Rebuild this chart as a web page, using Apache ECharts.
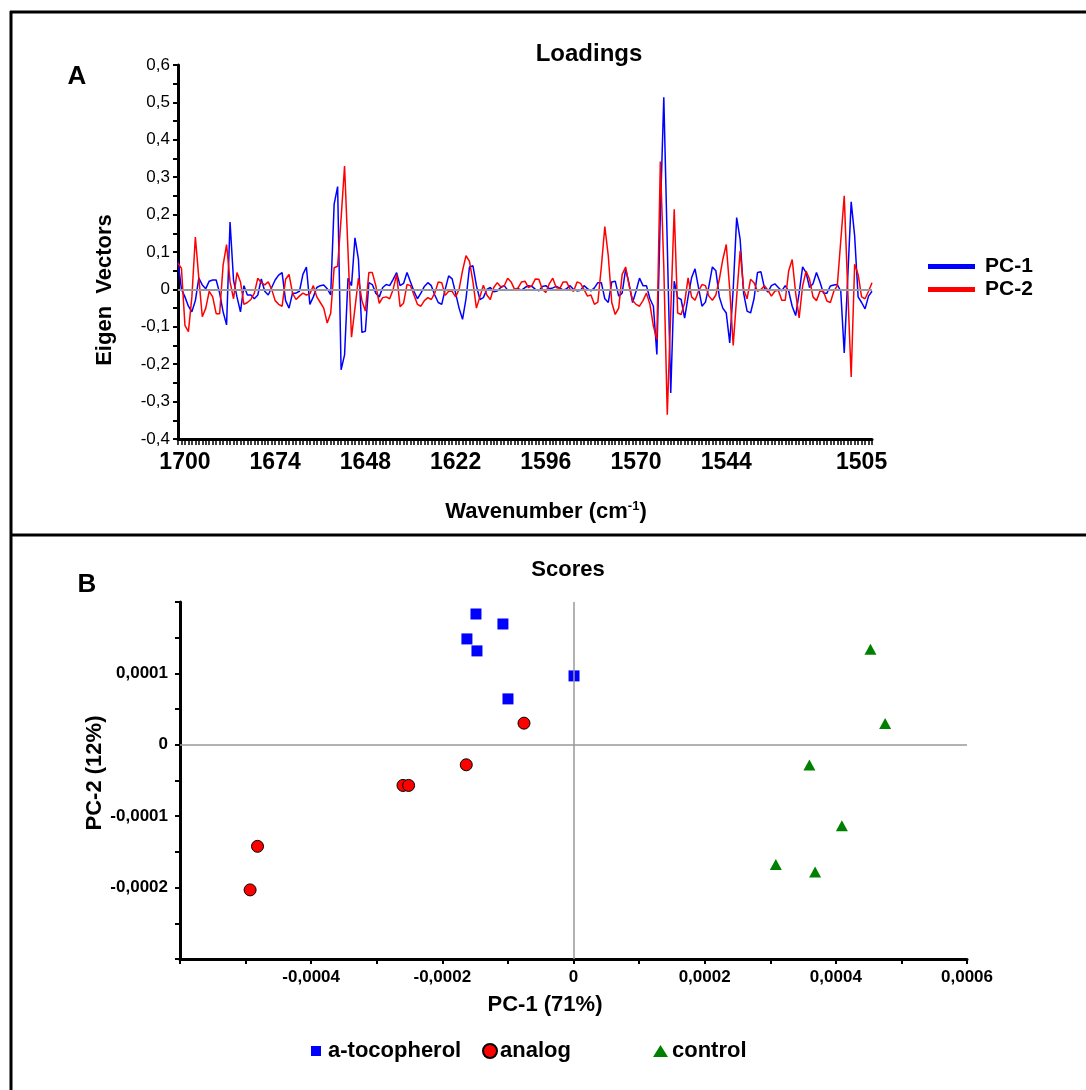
<!DOCTYPE html>
<html>
<head>
<meta charset="utf-8">
<title>Loadings / Scores</title>
<script src="https://cdn.jsdelivr.net/npm/echarts@6/dist/echarts.min.js"></script>
<style>
  html, body { margin: 0; padding: 0; background: #fff; }
  #main { width: 1086px; height: 1090px; }
</style>
</head>
<body>
<div id="main"></div>
<script>
// ---- panel A : loadings (one value per wavenumber) ----
var wavenumbers = [
  1702,1701,1700,1699,1698,1697,1696,1695,1694,1693,1692,1691,1690,1689,1688,1687,1686,1685,1684,1683,
  1682,1681,1680,1679,1678,1677,1676,1675,1674,1673,1672,1671,1670,1669,1668,1667,1666,1665,1664,1663,
  1662,1661,1660,1659,1658,1657,1656,1655,1654,1653,1652,1651,1650,1649,1648,1647,1646,1645,1644,1643,
  1642,1641,1640,1639,1638,1637,1636,1635,1634,1633,1632,1631,1630,1629,1628,1627,1626,1625,1624,1623,
  1622,1621,1620,1619,1618,1617,1616,1615,1614,1613,1612,1611,1610,1609,1608,1607,1606,1605,1604,1603,
  1602,1601,1600,1599,1598,1597,1596,1595,1594,1593,1592,1591,1590,1589,1588,1587,1586,1585,1584,1583,
  1582,1581,1580,1579,1578,1577,1576,1575,1574,1573,1572,1571,1570,1569,1568,1567,1566,1565,1564,1563,
  1562,1561,1560,1559,1558,1557,1556,1555,1554,1553,1552,1551,1550,1549,1548,1547,1546,1545,1544,1543,
  1542,1541,1540,1539,1538,1537,1536,1535,1534,1533,1532,1531,1530,1529,1528,1527,1526,1525,1524,1523,
  1522,1521,1520,1519,1518,1517,1516,1515,1514,1513,1512,1511,1510,1509,1508,1507,1506,1505,1504,1503,
  1502
];
var xTickLabels = ['1700', '1674', '1648', '1622', '1596', '1570', '1544', '1505'];

var pc1 = [
  0.075, 0.0, -0.02, -0.045, -0.06, -0.03, 0.03, 0.012, 0.002, 0.022, 0.025, 0.025, -0.01, -0.06, -0.095, 0.18, 0.025,
  -0.02, -0.06, 0.01, -0.015, -0.015, -0.025, -0.015, 0.028, -0.005, -0.015, 0.005, 0.025, 0.038, 0.045, -0.03, -0.05, -0.01,
  -0.01, -0.005, 0.04, 0.06, -0.04, -0.02, 0.005, 0.01, 0.012, 0.002, -0.015, 0.228, 0.275, -0.215, -0.175, 0.03, 0.01,
  0.138, 0.08, -0.115, -0.112, 0.018, 0.013, -0.01, -0.02, 0.005, 0.013, 0.01, 0.027, 0.045, 0.01, 0.016, 0.045,
  0.02, -0.005, -0.025, -0.01, 0.008, 0.018, 0.01, -0.015, -0.035, -0.04, 0.0, 0.036, 0.028, -0.01, -0.05, -0.08, -0.025,
  0.06, 0.063, 0.01, -0.027, -0.022, 0.0, 0.005, -0.006, -0.004, 0.005, 0.01, -0.002, -0.002, 0.0, 0.002, -0.002, 0.005,
  0.01, 0.008, 0.0, -0.004, 0.008, 0.01, 0.002, 0.004, 0.008, 0.004, -0.002, 0.002, 0.01, 0.0, -0.004, -0.002, 0.01,
  0.002, -0.004, 0.004, 0.018, 0.018, -0.025, -0.035, 0.02, 0.022, -0.018, -0.01, 0.054, 0.015, -0.035, -0.005, 0.03,
  0.01, 0.01, -0.025, -0.045, -0.174, 0.2, 0.514, 0.12, -0.277, 0.022, -0.022, -0.027, -0.077, -0.02, 0.031, 0.055, 0.005,
  -0.045, -0.034, 0.009, 0.06, 0.05, -0.02, -0.05, -0.063, -0.143, 0.0, 0.192, 0.134, -0.01, -0.058, -0.063, -0.025, 0.045,
  0.047, 0.004, -0.007, 0.01, 0.015, 0.005, -0.004, 0.01, -0.005, -0.045, -0.07, -0.01, 0.06, 0.045, 0.005, 0.015, 0.045,
  0.02, -0.01, -0.01, 0.009, 0.012, 0.013, -0.005, -0.17, 0.03, 0.234, 0.143, -0.02, -0.035, -0.052, -0.018, -0.005
];
var pc2 = [
  0.07, 0.056, -0.096, -0.113, -0.02, 0.14, 0.03, -0.073, -0.05, -0.005, -0.02, -0.065, -0.065, 0.065, 0.12, 0.02, -0.025,
  0.045, 0.02, -0.04, -0.035, -0.027, -0.01, 0.03, 0.018, 0.012, 0.02, 0.0, -0.03, -0.04, -0.045, 0.027, 0.04, -0.01,
  -0.027, -0.018, -0.01, -0.015, -0.012, 0.01, -0.02, -0.035, -0.05, -0.09, -0.064, 0.058, 0.062, 0.19, 0.33, 0.1, -0.128,
  -0.05, 0.03, -0.03, -0.058, 0.045, 0.045, 0.01, -0.037, -0.022, -0.02, -0.025, 0.0, 0.04, -0.046, -0.037, 0.013,
  0.01, -0.015, -0.04, -0.045, -0.03, -0.022, -0.027, -0.01, 0.02, 0.018, -0.016, -0.005, -0.005, -0.02, 0.0, 0.05, 0.09,
  0.075, 0.02, -0.05, -0.02, 0.011, -0.015, -0.027, 0.005, 0.018, 0.007, 0.009, 0.03, 0.02, 0.0, 0.004, 0.02, 0.022,
  0.005, 0.01, 0.028, 0.027, 0.0, -0.008, 0.015, 0.03, 0.005, 0.002, 0.02, 0.02, 0.0, -0.005, 0.02, 0.016, 0.0,
  -0.018, -0.015, -0.04, -0.034, 0.06, 0.168, 0.09, -0.035, -0.067, -0.05, 0.04, 0.06, 0.01, -0.029, -0.04, -0.045,
  -0.03, -0.01, -0.04, -0.098, -0.134, 0.342, 0.06, -0.335, -0.06, 0.214, -0.063, -0.067, -0.036, 0.031, -0.02, -0.029, -0.005,
  0.013, 0.01, -0.018, -0.029, -0.015, 0.027, 0.08, 0.12, 0.0, -0.15, -0.02, 0.103, 0.0, -0.025, 0.027, 0.018, -0.005,
  0.0, 0.01, -0.002, -0.018, -0.005, -0.002, -0.029, -0.029, 0.05, 0.08, -0.01, -0.076, 0.009, 0.049, 0.027, -0.02, -0.03,
  -0.005, -0.005, -0.031, -0.035, -0.005, 0.01, 0.13, 0.25, 0.0, -0.234, 0.067, 0.04, -0.02, -0.025, -0.005, 0.018
];

// ---- panel B : scores ----
var tocoX = [-0.0001487, -0.0001076, -0.0001625, -0.0001472, 0.0000008, -0.0000999];
var tocoY = [0.0001832, 0.0001692, 0.0001483, 0.0001315, 0.0000965, 0.0000643];
var analogX = [-0.0000755, -0.0001635, -0.00026, -0.0002514, -0.0004818, -0.0004931];
var analogY = [0.0000303, -0.000028, -0.0000569, -0.0000569, -0.0001422, -0.0002032];
var controlX = [0.0004528, 0.0004752, 0.0003597, 0.0004092, 0.0003085, 0.0003684];
var controlY = [0.0001338, 0.0000298, -0.0000284, -0.0001133, -0.0001678, -0.000178];

var xTicksB = [-0.0004, -0.0002, 0, 0.0002, 0.0004, 0.0006];
var xLabelsB = ['-0,0004', '-0,0002', '0', '0,0002', '0,0004', '0,0006'];
var yTicksB = [0.0001, 0, -0.0001, -0.0002];
var yLabelsB = ['0,0001', '0', '-0,0001', '-0,0002'];

var FONT = '"Liberation Sans", Arial, sans-serif';

function pairs(xs, ys) {
  return xs.map(function (x, i) { return [x, ys[i]]; });
}
function pickLabel(v, ticks, labels) {
  for (var i = 0; i < ticks.length; i++) {
    if (Math.abs(v - ticks[i]) < 1e-9) return labels[i];
  }
  return '';
}

var chart = echarts.init(document.getElementById('main'));

var blackLine = { color: '#000', width: 3 };
var zeroLine = {
  silent: true,
  symbol: ['none', 'none'],
  label: { show: false },
  emphasis: { disabled: true }
};

chart.setOption({
  animation: false,
  backgroundColor: '#fff',
  textStyle: { fontFamily: FONT },
  grid: [
    { left: 178, top: 65, width: 694, height: 374, outerBoundsMode: 'none' },
    { left: 180, top: 602, width: 787, height: 357, outerBoundsMode: 'none' }
  ],
  xAxis: [
    {
      gridIndex: 0, type: 'category', data: wavenumbers, boundaryGap: false,
      axisLine: { onZero: false, lineStyle: blackLine },
      axisTick: { interval: 0, length: 6, lineStyle: { color: '#000', width: 1.5 } },
      axisLabel: {
        interval: function (i, v) { return xTickLabels.indexOf(String(v)) >= 0; },
        color: '#000', fontSize: 23, fontWeight: 'bold', margin: 12
      },
      splitLine: { show: false }
    },
    {
      gridIndex: 1, type: 'value', min: -0.0006, max: 0.0006, interval: 0.0001,
      axisLine: { onZero: false, lineStyle: blackLine },
      axisTick: { length: 5, lineStyle: { color: '#000', width: 2 } },
      axisLabel: {
        formatter: function (v) { return pickLabel(v, xTicksB, xLabelsB); },
        color: '#000', fontSize: 17, fontWeight: 'bold', margin: 10
      },
      splitLine: { show: false }
    }
  ],
  yAxis: [
    {
      gridIndex: 0, type: 'value', min: -0.4, max: 0.6, interval: 0.1,
      axisLine: { show: true, onZero: false, lineStyle: blackLine },
      axisTick: { show: true, length: 5, lineStyle: { color: '#000', width: 2 } },
      minorTick: { show: true, splitNumber: 2, length: 5, lineStyle: { color: '#000', width: 2 } },
      axisLabel: {
        formatter: function (v) { return Math.abs(v) < 1e-9 ? '0' : v.toFixed(1).replace('.', ','); },
        color: '#000', fontSize: 17, margin: 8
      },
      splitLine: { show: false }
    },
    {
      gridIndex: 1, type: 'value', min: -0.0003, max: 0.0002, interval: 0.00005,
      axisLine: { show: true, onZero: false, lineStyle: blackLine },
      axisTick: { show: true, length: 5, lineStyle: { color: '#000', width: 2 } },
      axisLabel: {
        formatter: function (v) { return pickLabel(v, yTicksB, yLabelsB); },
        color: '#000', fontSize: 17, fontWeight: 'bold', margin: 12
      },
      splitLine: { show: false }
    }
  ],
  legend: [
    {
      data: ['PC-1', 'PC-2'], orient: 'vertical', left: 923, top: 251,
      icon: 'rect', itemWidth: 47, itemHeight: 5, itemGap: 2,
      selectedMode: false,
      textStyle: { fontSize: 21, fontWeight: 'bold', color: '#000', padding: [0, 0, 0, 5] }
    },
    {
      data: ['a-tocopherol'], left: 306, top: 1035, itemWidth: 10, itemHeight: 10,
      selectedMode: false, textStyle: { fontSize: 22, fontWeight: 'bold', color: '#000', padding: [0, 0, 0, 2] }
    },
    {
      data: ['analog'], left: 477, top: 1035, itemWidth: 14, itemHeight: 14,
      selectedMode: false, textStyle: { fontSize: 22, fontWeight: 'bold', color: '#000', padding: [0, 0, 0, -2] }
    },
    {
      data: ['control'], left: 648, top: 1035, itemWidth: 15, itemHeight: 12,
      selectedMode: false, textStyle: { fontSize: 22, fontWeight: 'bold', color: '#000', padding: [0, 0, 0, -1] }
    }
  ],
  series: [
    {
      name: 'PC-1', type: 'line', xAxisIndex: 0, yAxisIndex: 0, data: pc1,
      symbol: 'none', lineStyle: { color: '#0000FF', width: 1.5 }, itemStyle: { color: '#0000FF' },
      markLine: Object.assign({ lineStyle: { color: '#999', width: 2, type: 'solid' }, data: [{ yAxis: 0 }] }, zeroLine)
    },
    {
      name: 'PC-2', type: 'line', xAxisIndex: 0, yAxisIndex: 0, data: pc2,
      symbol: 'none', lineStyle: { color: '#FF0000', width: 1.5 }, itemStyle: { color: '#FF0000' }
    },
    {
      name: 'a-tocopherol', type: 'scatter', xAxisIndex: 1, yAxisIndex: 1, data: pairs(tocoX, tocoY),
      symbol: 'rect', symbolSize: 11, itemStyle: { color: '#0000FF', opacity: 1 },
      markLine: Object.assign({ lineStyle: { color: '#999', width: 1.5, type: 'solid' }, data: [{ xAxis: 0 }, { yAxis: 0 }] }, zeroLine)
    },
    {
      name: 'analog', type: 'scatter', xAxisIndex: 1, yAxisIndex: 1, data: pairs(analogX, analogY),
      symbol: 'circle', symbolSize: 12, itemStyle: { color: '#FF0000', borderColor: '#000', borderWidth: 1, opacity: 1 }
    },
    {
      name: 'control', type: 'scatter', xAxisIndex: 1, yAxisIndex: 1, data: pairs(controlX, controlY),
      symbol: 'triangle', symbolSize: [12, 11], itemStyle: { color: '#008000', opacity: 1 }
    }
  ],
  graphic: [
    // frame of the two panels
    { type: 'line', silent: true, shape: { x1: 10, y1: 12, x2: 1086, y2: 12 }, style: { stroke: '#000', lineWidth: 3 } },
    { type: 'line', silent: true, shape: { x1: 11, y1: 11, x2: 11, y2: 1090 }, style: { stroke: '#000', lineWidth: 3 } },
    { type: 'line', silent: true, shape: { x1: 10, y1: 535, x2: 1086, y2: 535 }, style: { stroke: '#000', lineWidth: 3 } },
    // panel A texts
    { type: 'text', x: 77, y: 77, style: { text: 'A', font: 'bold 26px ' + FONT, fill: '#000', align: 'center', verticalAlign: 'middle', textAlign: 'center', textVerticalAlign: 'middle' } },
    { type: 'text', x: 589, y: 54, style: { text: 'Loadings', font: 'bold 24px ' + FONT, fill: '#000', align: 'center', verticalAlign: 'middle', textAlign: 'center', textVerticalAlign: 'middle' } },
    { type: 'text', x: 105, y: 290, rotation: Math.PI / 2, style: { text: 'Eigen  Vectors', font: 'bold 22px ' + FONT, fill: '#000', align: 'center', verticalAlign: 'middle', textAlign: 'center', textVerticalAlign: 'middle' } },
    {
      type: 'text', x: 546, y: 512,
      style: {
        text: '{n|Wavenumber (cm}{s|-1}{n|)}', fill: '#000',
        align: 'center', verticalAlign: 'middle', textAlign: 'center', textVerticalAlign: 'middle',
        rich: {
          n: { fontSize: 22, fontWeight: 'bold', fontFamily: FONT, fill: '#000', lineHeight: 24 },
          s: { fontSize: 13, fontWeight: 'bold', fontFamily: FONT, fill: '#000', verticalAlign: 'top', lineHeight: 24 }
        }
      }
    },
    // panel B texts
    { type: 'text', x: 87, y: 585, style: { text: 'B', font: 'bold 26px ' + FONT, fill: '#000', align: 'center', verticalAlign: 'middle', textAlign: 'center', textVerticalAlign: 'middle' } },
    { type: 'text', x: 568, y: 570, style: { text: 'Scores', font: 'bold 22px ' + FONT, fill: '#000', align: 'center', verticalAlign: 'middle', textAlign: 'center', textVerticalAlign: 'middle' } },
    { type: 'text', x: 95, y: 773, rotation: Math.PI / 2, style: { text: 'PC-2 (12%)', font: 'bold 22px ' + FONT, fill: '#000', align: 'center', verticalAlign: 'middle', textAlign: 'center', textVerticalAlign: 'middle' } },
    { type: 'text', x: 545, y: 1005, style: { text: 'PC-1 (71%)', font: 'bold 22px ' + FONT, fill: '#000', align: 'center', verticalAlign: 'middle', textAlign: 'center', textVerticalAlign: 'middle' } }
  ]
});
</script>
</body>
</html>
